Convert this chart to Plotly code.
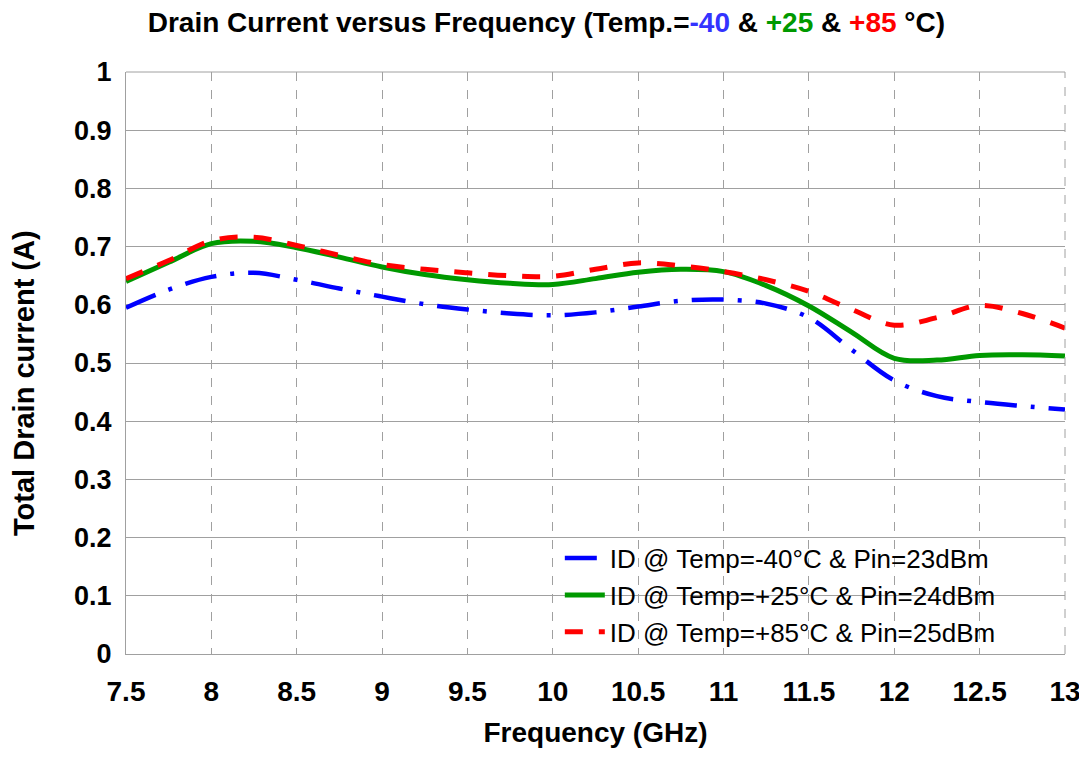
import plotly.graph_objects as go

freq = [7.5, 7.75, 8.0, 8.25, 8.5, 8.75, 9.0, 9.25, 9.5, 9.75, 10.0, 10.25,
        10.5, 10.75, 11.0, 11.25, 11.5, 11.75, 12.0, 12.25, 12.5, 12.75, 13.0]

id_m40 = [0.595, 0.626, 0.648, 0.655, 0.643, 0.628, 0.614, 0.601, 0.592, 0.585,
          0.582, 0.587, 0.597, 0.607, 0.609, 0.602, 0.578, 0.523, 0.470, 0.443,
          0.433, 0.426, 0.420]
id_p25 = [0.640, 0.673, 0.705, 0.709, 0.698, 0.682, 0.665, 0.652, 0.643, 0.637,
          0.635, 0.645, 0.656, 0.661, 0.657, 0.633, 0.598, 0.553, 0.508, 0.505,
          0.513, 0.514, 0.512]
id_p85 = [0.645, 0.676, 0.710, 0.716, 0.702, 0.685, 0.669, 0.661, 0.655, 0.650,
          0.649, 0.661, 0.672, 0.667, 0.657, 0.643, 0.623, 0.592, 0.565, 0.578,
          0.599, 0.585, 0.560]

names = ["ID @ Temp=-40°C & Pin=23dBm",
         "ID @ Temp=+25°C & Pin=24dBm",
         "ID @ Temp=+85°C & Pin=25dBm"]

x_ticks = [7.5, 8, 8.5, 9, 9.5, 10, 10.5, 11, 11.5, 12, 12.5, 13]
x_tick_text = ["7.5", "8", "8.5", "9", "9.5", "10", "10.5", "11", "11.5", "12", "12.5", "13"]
y_ticks = [0, 0.1, 0.2, 0.3, 0.4, 0.5, 0.6, 0.7, 0.8, 0.9, 1]
y_tick_text = ["0", "0.1", "0.2", "0.3", "0.4", "0.5", "0.6", "0.7", "0.8", "0.9", "1"]

FONT = "Liberation Sans, Arial, sans-serif"

W, H = 1079, 750  # page body has an 8px margin

fig = go.Figure()
styles = [
    dict(color="#0000FF", width=4.5, dash="32px,14px,4px,14px"),
    dict(color="#009900", width=5, dash="solid"),
    dict(color="#FF0000", width=5, dash="18px,16px"),
]
for i, (ys, nm, st) in enumerate(zip([id_m40, id_p25, id_p85], names, styles)):
    fig.add_trace(go.Scatter(
        x=freq, y=ys, name=nm, mode="lines",
        line=dict(shape="spline", smoothing=1.0, **st),
        legendgroup=f"g{i}",
    ))

title_html = ("<b>Drain Current versus Frequency (Temp.=<span style='color:#3333FF'>-40</span>"
              " &amp; <span style='color:#009900'>+25</span> &amp; "
              "<span style='color:#FF0000'>+85</span> °C)</b>")

fig.update_layout(
    width=W, height=H,
    paper_bgcolor="white", plot_bgcolor="white",
    margin=dict(l=118, r=22, t=64, b=104, autoexpand=False),
    font=dict(family=FONT, color="black"),
    title=dict(text=title_html, x=0.499, xref="container", xanchor="center",
               y=0.981, yref="container", yanchor="middle",
               font=dict(size=28, family=FONT, color="black")),
    showlegend=True,
    legend=dict(x=0.462, y=0.205, xanchor="left", yanchor="top",
                bgcolor="rgba(0,0,0,0)", font=dict(size=26, family=FONT),
                itemwidth=40, tracegroupgap=0),
    xaxis=dict(range=[7.5, 13], tickvals=x_ticks, ticktext=x_tick_text,
               showgrid=True, gridcolor="#A0A0A0", gridwidth=1, griddash="dash",
               showline=True, linecolor="#A0A0A0", linewidth=1, mirror=False,
               ticks="", ticklabelstandoff=12, automargin=False,
               tickfont=dict(size=28, family=FONT, color="black", weight="bold"),
               title=dict(text="<b>Frequency (GHz)</b>", font=dict(size=28, family=FONT),
                          standoff=16),
               zeroline=False),
    yaxis=dict(range=[0, 1], tickvals=y_ticks, ticktext=y_tick_text,
               showgrid=True, gridcolor="#A0A0A0", gridwidth=1,
               showline=True, linecolor="#A0A0A0", linewidth=1,
               ticks="", ticklabelstandoff=8, automargin=False,
               tickfont=dict(size=27, family=FONT, color="black", weight="bold"),
               zeroline=False),
    annotations=[dict(text="<b>Total Drain current (A)</b>", textangle=-90,
                      xref="paper", yref="paper", x=-0.108, y=0.465,
                      xanchor="center", yanchor="middle", showarrow=False,
                      font=dict(size=29, family=FONT, color="black"))],
)

# plot frame: top solid, right dashed (as in the reference)
fig.add_shape(type="line", xref="paper", yref="paper", x0=0, x1=1, y0=1, y1=1,
              line=dict(color="#A0A0A0", width=1))
fig.add_shape(type="line", xref="paper", yref="paper", x0=1, x1=1, y0=0, y1=1,
              line=dict(color="#A0A0A0", width=1, dash="dash"))

fig.write_html("out.html")
